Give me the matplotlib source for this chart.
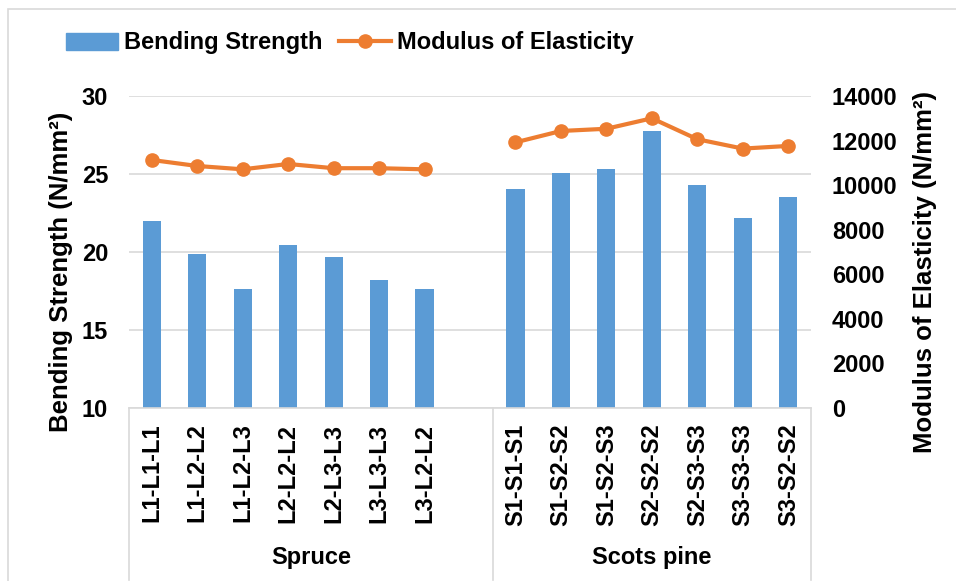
import numpy as np
import matplotlib.pyplot as plt
from matplotlib.patches import Rectangle, Patch
from matplotlib.lines import Line2D

plt.rcParams['font.family'] = ['Liberation Sans', 'DejaVu Sans']
plt.rcParams['font.weight'] = 'bold'

# Datos
spruce_labels = ['L1-L1-L1', 'L1-L2-L2', 'L1-L2-L3', 'L2-L2-L2', 'L2-L3-L3', 'L3-L3-L3', 'L3-L2-L2']
pine_labels = ['S1-S1-S1', 'S1-S2-S2', 'S1-S2-S3', 'S2-S2-S2', 'S2-S3-S3', 'S3-S3-S3', 'S3-S2-S2']
groups = ['Spruce', 'Scots pine']

spruce_mor = [22.0, 19.9, 17.65, 20.45, 19.7, 18.2, 17.65]
pine_mor = [24.05, 25.05, 25.35, 27.75, 24.3, 22.2, 23.5]

spruce_moe = [11130, 10860, 10710, 10950, 10760, 10760, 10710]
pine_moe = [11920, 12430, 12530, 13000, 12060, 11640, 11760]

bar_color = '#5B9BD5'
line_color = '#ED7D31'
grid_color = '#D9D9D9'
fs = 17

# posiciones: 7 spruce, un hueco vacio, 7 scots pine
x_spruce = np.arange(len(spruce_labels))
x_pine = np.arange(len(pine_labels)) + len(spruce_labels) + 1
n_slots = len(spruce_labels) + 1 + len(pine_labels)

fig = plt.figure(figsize=(9.56, 5.81), dpi=100)
ax = fig.add_axes([129 / 956, 1 - 408 / 581, (811 - 129) / 956, 312 / 581])
ax2 = ax.twinx()

ax.bar(x_spruce, [v - 10 for v in spruce_mor], bottom=10, width=0.4, color=bar_color, zorder=2)
ax.bar(x_pine, [v - 10 for v in pine_mor], bottom=10, width=0.4, color=bar_color, zorder=2)

ax2.plot(x_spruce, spruce_moe, color=line_color, lw=3, marker='o', ms=9.5, zorder=3)
ax2.plot(x_pine, pine_moe, color=line_color, lw=3, marker='o', ms=9.5, zorder=3)

ax.set_xlim(-0.5, n_slots - 0.5)
ax.set_ylim(10, 30)
ax.set_yticks([10, 15, 20, 25, 30])
ax2.set_ylim(0, 14000)
ax2.set_yticks(np.arange(0, 14001, 2000))

ax.yaxis.grid(True, color=grid_color, lw=1.2, zorder=0)
ax.set_axisbelow(True)
for a in (ax, ax2):
    for s in ['top', 'left', 'right']:
        a.spines[s].set_visible(False)
    a.spines['bottom'].set_color(grid_color)
    a.spines['bottom'].set_linewidth(1.2)
    a.tick_params(axis='y', length=0, labelsize=fs, pad=15)
ax2.spines['bottom'].set_visible(False)
ax.set_xticks([])

# etiquetas de categorias
trans = ax.get_xaxis_transform()
for xi, lab in zip(list(x_spruce) + list(x_pine), spruce_labels + pine_labels):
    ax.text(xi, -0.05, lab, rotation=90, ha='center', va='top', fontsize=fs,
            fontweight='bold', transform=trans)

# separadores y nombres de grupo
bounds = [-0.5, len(spruce_labels) + 0.5, n_slots - 0.5]
for b in bounds:
    ax.plot([b, b], [0, -0.55], color=grid_color, lw=1.2, transform=trans, clip_on=False)
for i, g in enumerate(groups):
    ax.text((bounds[i] + bounds[i + 1]) / 2, -0.478, g, ha='center', va='center',
            fontsize=fs, fontweight='bold', transform=trans)

fig.text(61 / 956, 1 - 272 / 581, 'Bending Strength (N/mm²)', rotation=90,
         ha='center', va='center', fontsize=18.5, fontweight='bold')
fig.text(925 / 956, 1 - 272 / 581, 'Modulus of Elasticity (N/mm²)', rotation=90,
         ha='center', va='center', fontsize=18.5, fontweight='bold')

handles = [Patch(color=bar_color),
           Line2D([0], [0], color=line_color, lw=3, marker='o', ms=9.5)]
fig.legend(handles, ['Bending Strength', 'Modulus of Elasticity'], loc='center left',
           bbox_to_anchor=(45 / 956, 1 - 43 / 581), ncol=2, frameon=False,
           handlelength=2.2, handletextpad=0.25, columnspacing=0.7,
           prop={'weight': 'bold', 'size': fs})

# borde del area del grafico (solo se ven arriba e izquierda)
fig.patches.append(Rectangle((8 / 956, -20 / 581), 980 / 956, 592 / 581, transform=fig.transFigure,
                             fill=False, edgecolor=grid_color, lw=1.2))

fig.savefig('out.png', dpi=100)
